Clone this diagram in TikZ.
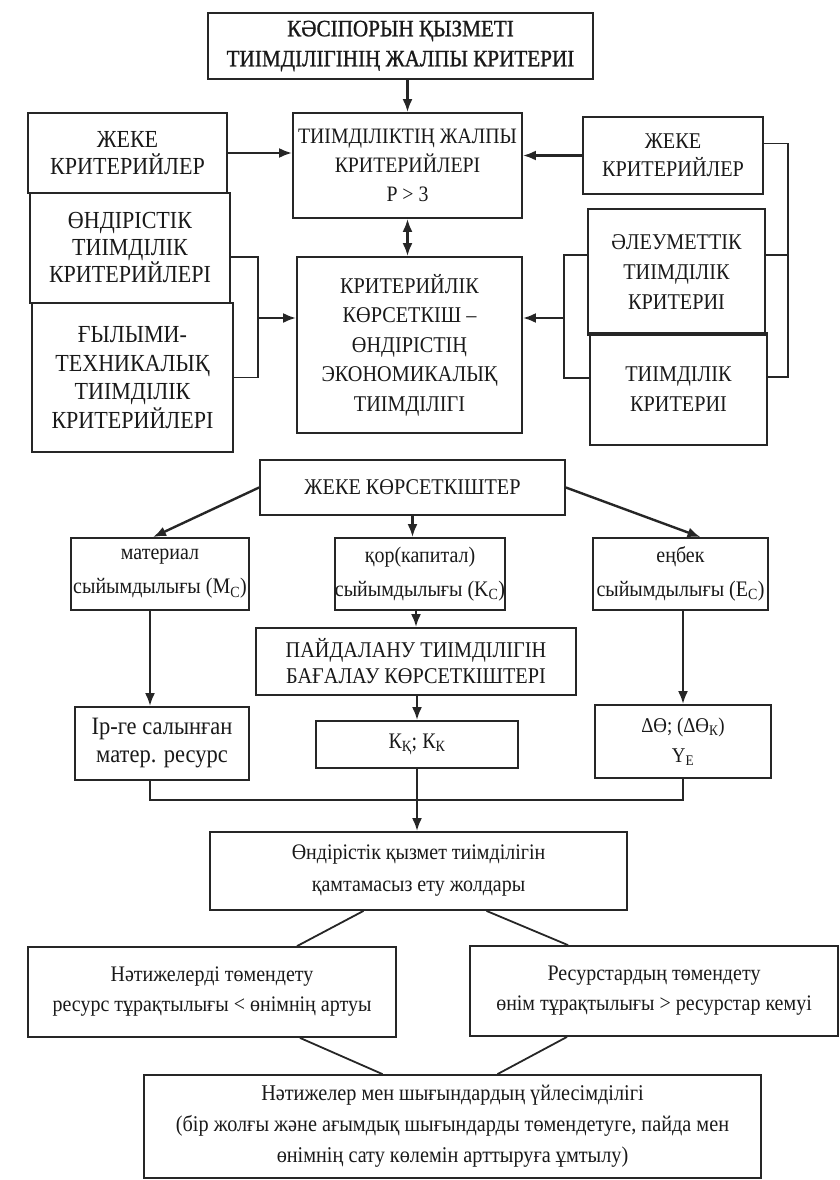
\documentclass[tikz,border=0pt]{standalone}
\usepackage{fontspec}
\setmainfont{Liberation Serif}[FakeStretch=0.9]
\usetikzlibrary{arrows.meta}

\begin{document}
\begin{tikzpicture}[x=1pt, y=-1pt,
	every node/.style={font=\fontsize{22.5}{28}\selectfont, text=black!90},
	blk/.style={draw=black!85, line width=1.8pt, align=center, inner sep=0pt},
	ln/.style={draw=black!85, line width=1.8pt},
	arr/.style={draw=black!85, line width=2.4pt, -{Latex[length=13pt,width=10pt]}}]
	\useasboundingbox (0,0) rectangle (840,1180);
	% upper part: criteria
	\node[blk, minimum width=385pt, minimum height=66pt, font=\fontsize{23.5}{30}\selectfont\addfontfeature{FakeBold=1}] (top) at (400.5,46) {КӘСІПОРЫН ҚЫЗМЕТІ\\ТИІМДІЛІГІНІҢ ЖАЛПЫ КРИТЕРИІ};
	\node[blk, minimum width=229pt, minimum height=105pt, font=\fontsize{22}{29}\selectfont] (crit) at (407.5,165.5) {ТИІМДІЛІКТІҢ ЖАЛПЫ\\КРИТЕРИЙЛЕРІ\\Р > 3};
	\node[blk, minimum width=199pt, minimum height=80pt, font=\fontsize{24.5}{27}\selectfont] (lcrit) at (127.5,153) {ЖЕКЕ\\КРИТЕРИЙЛЕР};
	\node[blk, minimum width=200pt, minimum height=110pt, font=\fontsize{24.5}{27}\selectfont] (lprod) at (130,248) {ӨНДІРІСТІК\\ТИІМДІЛІК\\КРИТЕРИЙЛЕРІ};
	\node[blk, minimum width=201pt, minimum height=149pt, font=\fontsize{24.5}{28.5}\selectfont] (lsci) at (132.5,377.5) {ҒЫЛЫМИ-\\ТЕХНИКАЛЫҚ\\ТИІМДІЛІК\\КРИТЕРИЙЛЕРІ};
	\node[blk, minimum width=180pt, minimum height=77pt] (rcrit) at (673,155.5) {ЖЕКЕ\\КРИТЕРИЙЛЕР};
	\node[blk, minimum width=177pt, minimum height=126pt, font=\fontsize{22.5}{30}\selectfont] (rsoc) at (676.5,272) {ӘЛЕУМЕТТІК\\ТИІМДІЛІК\\КРИТЕРИІ};
	\node[blk, minimum width=177pt, minimum height=112pt, font=\fontsize{22.5}{30}\selectfont] (reff) at (678.5,389) {ТИІМДІЛІК\\КРИТЕРИІ};
	\node[blk, minimum width=225pt, minimum height=176pt, font=\fontsize{22.5}{29.5}\selectfont] (main) at (409.5,345) {КРИТЕРИЙЛІК\\КӨРСЕТКІШ –\\ӨНДІРІСТІҢ\\ЭКОНОМИКАЛЫҚ\\ТИІМДІЛІГІ};
	\coordinate (lbr) at (258,318);
	\coordinate (rbk) at (564,318);
	\coordinate (rbr) at (788,255);
	\draw[arr] (top.south -| crit.north) -- (crit.north);
	\draw[arr, {Latex[length=13pt,width=10pt]}-{Latex[length=13pt,width=10pt]}] (crit.south) -- (crit.south |- main.north);
	\draw[arr] (lcrit.east) -- (lcrit.east -| crit.west);
	\draw[arr] (rcrit.west) -- (rcrit.west -| crit.east);
	\draw[ln] ([yshift=-9pt]lprod.east) -| (lbr) |- (lsci.east);
	\draw[arr] (lbr) -- (lbr -| main.west);
	\draw[ln] ([yshift=17pt]rsoc.west) -| (rbk) |- ([yshift=11pt]reff.west);
	\draw[arr] (rbk) -- (rbk -| main.east);
	\draw[ln] ([yshift=12pt]rcrit.east) -| (rbr) |- ([yshift=12pt]reff.east);
	\draw[ln] ([yshift=17pt]rsoc.east) -- (rbr);
	% partial indicators
	\node[blk, minimum width=305pt, minimum height=55pt] (part) at (412.5,487.5) {ЖЕКЕ КӨРСЕТКІШТЕР};
	\node[blk, minimum width=178pt, minimum height=72pt, font=\fontsize{22.2}{34}\selectfont] (mat) at (160,574) {материал\\сыйымдылығы (M\textsubscript{C})};
	\node[blk, minimum width=166pt, minimum height=72pt, font=\fontsize{22.2}{34}\selectfont] (cap) at (420,574) {қор(капитал)\\сыйымдылығы (K\textsubscript{C})};
	\node[blk, minimum width=175pt, minimum height=72pt, font=\fontsize{22.2}{34}\selectfont] (lab) at (680.5,574) {еңбек\\сыйымдылығы (E\textsubscript{C})};
	\node[blk, minimum width=320pt, minimum height=67pt, font=\fontsize{22.5}{26}\selectfont] (use) at (416,661.5) {ПАЙДАЛАНУ ТИІМДІЛІГІН\\БАҒАЛАУ КӨРСЕТКІШТЕРІ};
	\node[blk, minimum width=174pt, minimum height=73pt, font=\fontsize{25}{28}\selectfont] (res) at (162,743.5) {Ір-ге салынған\\матер. ресурс};
	\node[blk, minimum width=202pt, minimum height=47pt, font=\fontsize{22.2}{28}\selectfont] (kk) at (417,744.5) {К\textsubscript{Қ}; К\textsubscript{К}};
	\node[blk, minimum width=176pt, minimum height=73pt, font=\fontsize{21}{30}\selectfont] (dth) at (683,741.5) {ΔӨ; (ΔӨ\textsubscript{К})\\Ү\textsubscript{Е}};
	\coordinate (jn) at (418,800);
	\draw[arr] (part.west) -- ([xshift=-7pt]mat.north);
	\draw[arr] (part.south) -- (part.south |- cap.north);
	\draw[arr] (part.east) -- ([xshift=20pt]lab.north);
	\draw[arr] ([xshift=-10pt]mat.south) -- ([xshift=-10pt]mat.south |- res.north);
	\draw[arr] (use.north |- cap.south) -- (use.north);
	\draw[arr] (dth.north |- lab.south) -- (dth.north);
	\draw[arr] (kk.north |- use.south) -- (kk.north);
	\draw[ln] ([xshift=-12pt]res.south) |- (jn);
	\draw[ln] (dth.south) |- (jn);
	% ways of ensuring efficiency
	\node[blk, minimum width=417pt, minimum height=78pt, font=\fontsize{22.2}{32}\selectfont] (ways) at (418.5,871) {Өндірістік қызмет тиімділігін\\қамтамасыз ету жолдары};
	\node[blk, minimum width=368pt, minimum height=90pt, font=\fontsize{22.2}{30}\selectfont] (lres) at (212,992) {Нәтижелерді төмендету\\ресурс тұрақтылығы < өнімнің артуы};
	\node[blk, minimum width=368pt, minimum height=90pt, font=\fontsize{22.2}{30}\selectfont] (rres) at (654,991) {Ресурстардың төмендету\\өнім тұрақтылығы > ресурстар кемуі};
	\node[blk, minimum width=617pt, minimum height=103pt, font=\fontsize{22.5}{31}\selectfont] (bal) at (452.5,1126.5) {Нәтижелер мен шығындардың үйлесімділігі\\(бір жолғы және ағымдық шығындарды төмендетуге, пайда мен\\өнімнің сату көлемін арттыруға ұмтылу)};
	\draw[arr] (kk.south) -- (kk.south |- ways.north);
	\draw[ln] ([xshift=-55pt]ways.south) -- ([xshift=85pt]lres.north);
	\draw[ln] ([xshift=68pt]ways.south) -- ([xshift=-86pt]rres.north);
	\draw[ln] ([xshift=88pt]lres.south) -- ([xshift=-70pt]bal.north);
	\draw[ln] ([xshift=-87pt]rres.south) -- ([xshift=45pt]bal.north);
\end{tikzpicture}
\end{document}
